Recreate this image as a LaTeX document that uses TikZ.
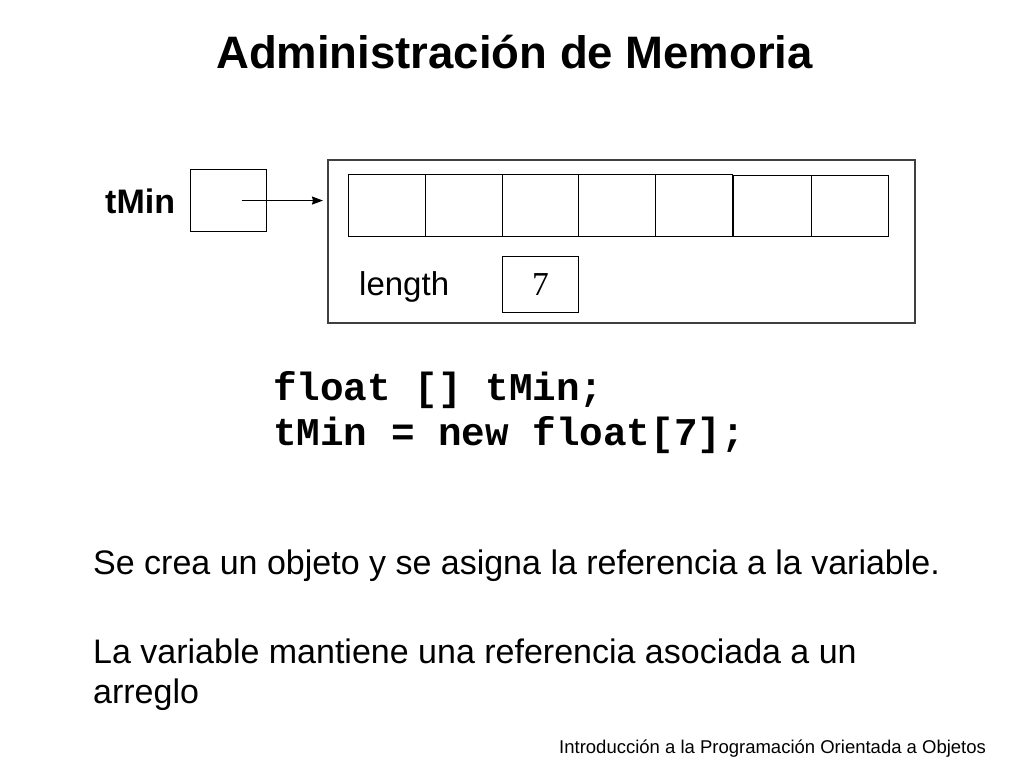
\documentclass[tikz,border=0pt]{standalone}
\usepackage{fontspec}
\setmainfont{Liberation Sans}
\newfontfamily\seriffont{Liberation Serif}
\newfontfamily\monofont{Liberation Mono}
\usetikzlibrary{arrows.meta}
\tikzset{
  cellbox/.style={draw=black, line width=1.1pt, inner sep=0pt, anchor=north west, minimum height=62pt},
  txt/.style={anchor=base west, inner sep=0pt, text=black},
}
\begin{document}
\begin{tikzpicture}[x=1pt,y=-1pt]
\useasboundingbox[fill=white] (0,0) rectangle (1024,768);
% title
\node[txt] (title) at (216,68.3) {\fontsize{45.5}{50}\selectfont\bfseries Administración de Memoria};
% reference variable
\node[txt] (lbl) at (105,213) {\fontsize{34}{38}\selectfont\bfseries tMin};
\node[draw=black, line width=1.1pt, inner sep=0pt, anchor=north west, minimum width=76pt, minimum height=62pt] (ref) at (190,169) {};
% object box
\node[draw=black!75, line width=1.6pt, inner sep=0pt, anchor=north west, minimum width=587pt, minimum height=163pt] (obj) at (327,159) {};
% cells
\node[cellbox, minimum width=77pt] (c1) at (348,174) {};
\node[cellbox, minimum width=77pt] (c2) at (425,174) {};
\node[cellbox, minimum width=76pt] (c3) at (502,174) {};
\node[cellbox, minimum width=77pt] (c4) at (578,174) {};
\node[cellbox, minimum width=77pt] (c5) at (655,174) {};
\node[cellbox, minimum width=78pt, minimum height=61pt] (c6) at (733,175) {};
\node[cellbox, minimum width=77pt, minimum height=61pt] (c7) at (811,175) {};
% length
\node[txt] (len) at (359,295) {\fontsize{33}{36}\selectfont length};
\node[draw=black, line width=1.1pt, inner sep=0pt, anchor=north west, minimum width=76pt, minimum height=56pt, font=\seriffont\fontsize{33.5}{36}\selectfont] (lenval) at (502,256) {7};
% arrow
\coordinate (start) at ([xshift=13pt]ref.center);
\draw[line width=1.4pt, -{Stealth[length=11pt,width=8pt,inset=1pt]}, shorten >=4pt] (start) -- (start -| obj.west);
% code
\node[txt] (code1) at (273,400) {\monofont\bfseries\fontsize{39.3}{45}\selectfont float [] tMin;};
\node[txt] (code2) at (273,445) {\monofont\bfseries\fontsize{39.3}{45}\selectfont tMin = new float[7];};
% body text
\node[txt] (t1) at (93,574) {\fontsize{34}{40}\selectfont Se crea un objeto y se asigna la referencia a la variable.};
\node[txt] (t2) at (93,663) {\fontsize{34}{40}\selectfont La variable mantiene una referencia asociada a un};
\node[txt] (t3) at (93,703) {\fontsize{34}{40}\selectfont arreglo};
% footer
\node[txt] (foot) at (559,753) {\fontsize{18.5}{22}\selectfont Introducción a la Programación Orientada a Objetos};
\end{tikzpicture}
\end{document}
